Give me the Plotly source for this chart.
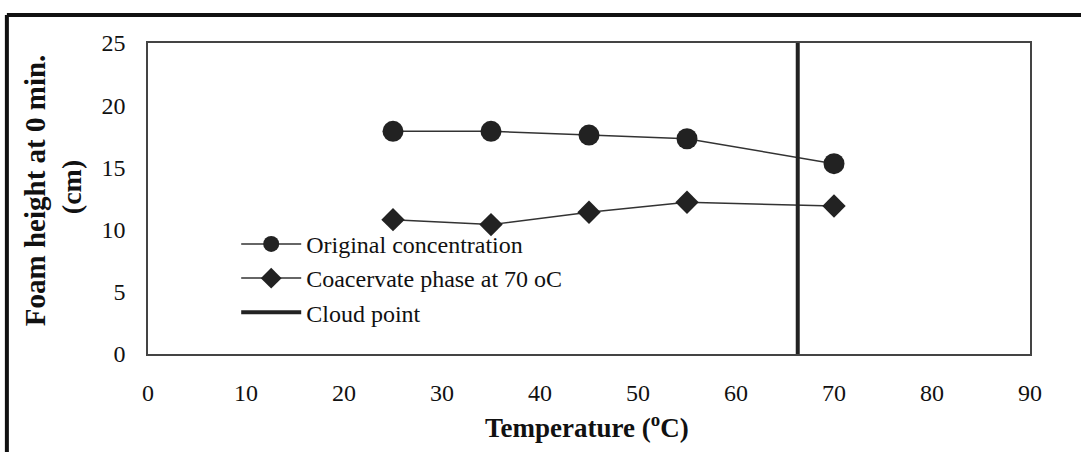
import plotly.graph_objects as go

temps = [25, 35, 45, 55, 70]
original = [17.9, 17.9, 17.6, 17.3, 15.3]
coacervate = [10.8, 10.4, 11.4, 12.2, 11.9]
cloud_point_x = [66.3, 66.3]
cloud_point_y = [-0.7, 25.2]
x_ticks = [0, 10, 20, 30, 40, 50, 60, 70, 80, 90]
y_ticks = [0, 5, 10, 15, 20, 25]

FONT = "Liberation Serif"
DARK = "#222222"

fig = go.Figure()
fig.add_trace(go.Scatter(
    x=temps, y=original, name="Original concentration", mode="lines+markers",
    line=dict(color="#333333", width=1.5),
    marker=dict(symbol="circle", size=21, color=DARK),
))
fig.add_trace(go.Scatter(
    x=temps, y=coacervate, name="Coacervate phase at 70 oC", mode="lines+markers",
    line=dict(color="#333333", width=1.5),
    marker=dict(symbol="diamond", size=18, color=DARK),
))
fig.add_trace(go.Scatter(
    x=cloud_point_x, y=cloud_point_y, name="Cloud point", mode="lines",
    line=dict(color=DARK, width=4), cliponaxis=False,
))

fig.update_layout(
    width=1081, height=452,
    margin=dict(l=148, r=51, t=43, b=98),
    paper_bgcolor="white", plot_bgcolor="white",
    font=dict(family=FONT, color="#111111", size=25),
    showlegend=True,
    legend=dict(x=0.1, y=0.425, xanchor="left", yanchor="top",
                bgcolor="rgba(0,0,0,0)", font=dict(size=24, family=FONT),
                tracegroupgap=0, itemwidth=60),
    xaxis=dict(range=[0, 90], tickvals=x_ticks, showgrid=False, zeroline=False,
               showline=True, mirror=True, linecolor="#444444", linewidth=1.5,
               ticks="", ticklabelstandoff=16, tickfont=dict(size=24, family=FONT)),
    yaxis=dict(range=[0, 25], tickvals=y_ticks, showgrid=False, zeroline=False,
               showline=True, mirror=True, linecolor="#444444", linewidth=1.5,
               ticks="", ticklabelstandoff=16, tickfont=dict(size=24, family=FONT)),
    annotations=[
        dict(text="<b>Temperature (<sup>o</sup>C)</b>", xref="paper", yref="paper",
             x=0.498, y=-0.23, xanchor="center", yanchor="middle", showarrow=False,
             font=dict(size=27, family=FONT)),
        dict(text="<b>Foam height at 0 min.</b>", xref="paper", yref="paper",
             x=-0.128, y=0.524, xanchor="center", yanchor="middle", showarrow=False,
             textangle=-90, font=dict(size=29, family=FONT)),
        dict(text="<b>(cm)</b>", xref="paper", yref="paper",
             x=-0.086, y=0.537, xanchor="center", yanchor="middle", showarrow=False,
             textangle=-90, font=dict(size=28, family=FONT)),
    ],
    shapes=[
        dict(type="line", xref="paper", yref="paper", x0=-0.16, x1=1.06, y0=1.09, y1=1.09,
             line=dict(color="#111111", width=4)),
        dict(type="line", xref="paper", yref="paper", x0=-0.16, x1=-0.16, y0=1.09, y1=-0.32,
             line=dict(color="#111111", width=4)),
    ],
)

fig.write_html("out.html")
